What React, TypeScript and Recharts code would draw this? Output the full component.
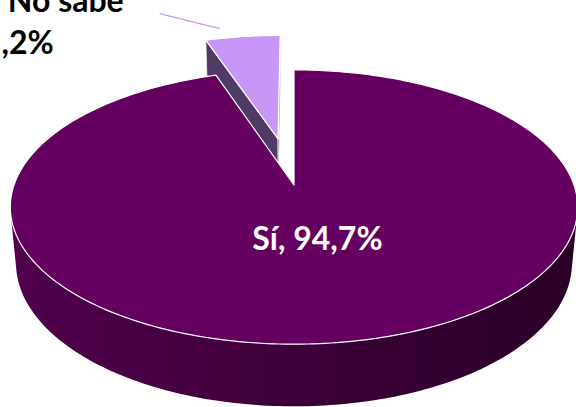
import React from "react";
import { PieChart, Pie } from "recharts";

// chart data
const categories = ["Sí", "No sabe"];
const values = [94.7, 5.2];
const valueLabels = ["94,7%", "5,2%"];

// look
const TOP_COLORS = ["#650060", "#c896f6"];
const FACE_COLORS = ["#3a0036", "#4f3b66"];
const EXPLODE = [0, 0.37];
const FONT = "Lato, 'Open Sans', sans-serif";

// fake 3D camera (units = pie radius)
const DIST = 5.47;
const TILT = (28.5 * Math.PI) / 180;
const SIN = Math.sin(TILT);
const COS = Math.cos(TILT);
const THICK = 0.23;
const RAD = Math.PI / 180;

const data = categories.map((name, i) => ({ name, value: values[i], pct: valueLabels[i] }));

type Pt = [number, number];

function project(cx: number, cy: number, r: number, X: number, Y: number, Z: number): Pt {
  const w = DIST - Z * COS - Y * SIN;
  return [cx + (r * DIST * X) / w, cy + (r * DIST * (Z * SIN - Y * COS)) / w];
}

const toPath = (pts: Pt[], close = true) =>
  pts.map((p, k) => `${k ? "L" : "M"}${p[0].toFixed(2)},${p[1].toFixed(2)}`).join("") + (close ? "Z" : "");

function geom(props: any) {
  const { cx, cy, outerRadius, startAngle, endAngle, midAngle } = props;
  const name = props.name ?? props.payload?.name;
  const idx = Math.max(0, categories.indexOf(name));
  const ex = EXPLODE[idx] * Math.cos(midAngle * RAD);
  const ez = -EXPLODE[idx] * Math.sin(midAngle * RAD);
  const steps = Math.max(2, Math.ceil(Math.abs(endAngle - startAngle)));
  const angles: number[] = [];
  for (let k = 0; k <= steps; k++) angles.push(startAngle + ((endAngle - startAngle) * k) / steps);
  const rim = (a: number, y: number, r = 1) =>
    project(cx, cy, outerRadius, ex + r * Math.cos(a * RAD), y, ez - r * Math.sin(a * RAD));
  const apex = (y: number) => project(cx, cy, outerRadius, ex, y, ez);
  return { idx, ex, ez, angles, rim, apex, startAngle, endAngle };
}

function SideSlice(props: any) {
  const g = geom(props);
  const camY = DIST * SIN;
  const camZ = DIST * COS;
  const out: React.ReactNode[] = [];

  // cut faces along the radii
  const faces: [number, number, number][] = [
    [g.startAngle, -Math.sin(g.startAngle * RAD), -Math.cos(g.startAngle * RAD)],
    [g.endAngle, Math.sin(g.endAngle * RAD), Math.cos(g.endAngle * RAD)],
  ];
  faces.forEach(([a, nx, nz], k) => {
    const dot = nx * (0 - g.ex) + nz * (camZ - g.ez);
    if (dot > 0.01) {
      const pts = [g.apex(0), g.rim(a, 0), g.rim(a, -THICK), g.apex(-THICK)];
      out.push(<path key={"f" + k} d={toPath(pts)} fill={FACE_COLORS[g.idx]} stroke="#ffffff" strokeWidth={0.8} />);
    }
  });

  // outer wall
  let run: number[] = [];
  const flush = () => {
    if (run.length > 1) {
      const pts = [...run.map((a) => g.rim(a, 0)), ...run.slice().reverse().map((a) => g.rim(a, -THICK))];
      out.push(<path key={"w" + out.length} d={toPath(pts)} fill={g.idx === 0 ? "url(#sideGrad)" : FACE_COLORS[g.idx]} stroke="none" />);
    }
    run = [];
  };
  g.angles.forEach((a) => {
    const c = Math.cos(a * RAD);
    const s = -Math.sin(a * RAD);
    const vis = c * (0 - g.ex - c) + s * (camZ - g.ez - s) - 0 * camY > 0;
    if (vis) run.push(a);
    else flush();
  });
  flush();
  return <g>{out}</g>;
}

function TopSlice(props: any) {
  const g = geom(props);
  const pts = [g.apex(0), ...g.angles.map((a) => g.rim(a, 0))];
  return <path d={toPath(pts)} fill={TOP_COLORS[g.idx]} stroke="#ffffff" strokeWidth={1.2} strokeLinejoin="round" />;
}

function renderLabel(props: any) {
  const g = geom(props);
  const mid = props.midAngle;
  if (g.idx === 0) {
    const [x, y] = g.rim(mid, 0, 0.4);
    return (
      <text x={x + 4} y={y + 9} textAnchor="middle" fill="#ffffff" fontFamily={FONT} fontWeight={700} fontSize={32}>
        {`${categories[0]}, ${valueLabels[0]}`}
      </text>
    );
  }
  const [ax, ay] = g.rim(mid, 0, 1);
  return (
    <g>
      <line x1={ax - 83} y1={ay - 23} x2={ax - 23} y2={ay - 8} stroke="#c896f6" strokeWidth={1.5} />
      <text textAnchor="end" fill="#000000" fontFamily={FONT} fontWeight={700} fontSize={32}>
        <tspan x={ax - 119} y={ay - 25}>{categories[g.idx]}</tspan>
        <tspan x={ax - 189} y={ay + 17}>{valueLabels[g.idx]}</tspan>
      </text>
    </g>
  );
}

export default function App() {
  const common = {
    data,
    dataKey: "value",
    nameKey: "name",
    cx: 294,
    cy: 185,
    outerRadius: 280,
    startAngle: 90,
    endAngle: -270,
    isAnimationActive: false,
    stroke: "none",
  };
  return (
    <div style={{ position: "fixed", left: 0, top: 0, width: 576, height: 407, background: "#ffffff", overflow: "hidden" }}>
      <PieChart width={576} height={407} margin={{ top: 0, right: 0, bottom: 0, left: 0 }}>
        <defs>
          <linearGradient id="sideGrad" gradientUnits="userSpaceOnUse" x1={10} y1={0} x2={578} y2={0}>
            <stop offset="0%" stopColor="#52004d" />
            <stop offset="50%" stopColor="#3d0039" />
            <stop offset="100%" stopColor="#2a0027" />
          </linearGradient>
        </defs>
        <Pie {...common} shape={SideSlice} label={false} labelLine={false} />
        <Pie {...common} shape={TopSlice} label={renderLabel} labelLine={false} />
      </PieChart>
    </div>
  );
}
